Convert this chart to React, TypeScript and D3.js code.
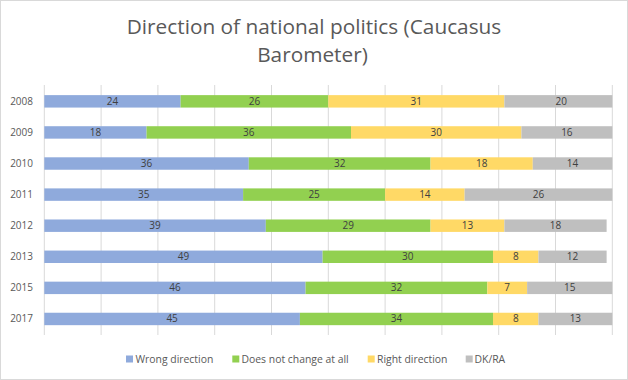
import React from "react";
import * as d3 from "d3";

const years = ["2008", "2009", "2010", "2011", "2012", "2013", "2015", "2017"];
const seriesNames = ["Wrong direction", "Does not change at all", "Right direction", "DK/RA"];
const wrong = [24, 18, 36, 35, 39, 49, 46, 45];
const noChange = [26, 36, 32, 25, 29, 30, 32, 34];
const right = [31, 30, 18, 14, 13, 8, 7, 8];
const dkra = [20, 16, 14, 26, 18, 12, 15, 13];
const colors = ["#8FAADC", "#92D050", "#FFD966", "#BFBFBF"];
const xTicks = d3.range(0, 101, 10);

const W = 628;
const H = 380;
const FONT = "'Open Sans', 'Noto Sans', sans-serif";

export default function App() {
  const series = [wrong, noChange, right, dkra];
  const x = d3.scaleLinear().domain([0, 100]).range([44.3, 612.3]);
  const y = d3
    .scaleBand<string>()
    .domain(years)
    .range([85.8, 334.5])
    .paddingInner(0.6)
    .paddingOuter(0.3);
  const stackData = years.map((yr, i) => {
    const o: any = { year: yr };
    seriesNames.forEach((s, j) => (o[s] = series[j][i]));
    return o;
  });
  const stacked = d3.stack<any>().keys(seriesNames)(stackData);

  const legendItems = [
    { sx: 126, tx: 135.5 },
    { sx: 232.3, tx: 241.5 },
    { sx: 367.7, tx: 377 },
    { sx: 465.7, tx: 474.5 },
  ];

  return (
    <svg
      width={W}
      height={H}
      style={{ position: "absolute", left: 0, top: 0, background: "#fff" }}
      fontFamily={FONT}
    >
      <rect x={0.5} y={0.5} width={W - 1} height={H - 1} fill="#fff" stroke="#D9D9D9" />
      <text x={314} y={34} textAnchor="middle" fontSize={20.8} fill="#595959">
        Direction of national politics (Caucasus
      </text>
      <text x={312.5} y={62} textAnchor="middle" fontSize={20.8} fill="#595959">
        Barometer)
      </text>
      {xTicks.map((t) => (
        <line
          key={t}
          x1={x(t)}
          x2={x(t)}
          y1={85}
          y2={335}
          stroke="#D9D9D9"
          strokeWidth={1}
        />
      ))}
      {stacked.map((layer, j) => (
        <g key={layer.key}>
          {layer.map((d, i) => {
            const x0 = x(Math.min(d[0], 100));
            const x1 = x(Math.min(d[1], 100));
            return (
              <rect
                key={i}
                x={x0}
                y={y(years[i])}
                width={Math.max(0, x1 - x0)}
                height={y.bandwidth()}
                fill={colors[j]}
              />
            );
          })}
        </g>
      ))}
      {stacked.map((layer, j) => (
        <g key={"l" + layer.key}>
          {layer.map((d, i) => (
            <text
              key={i}
              x={x((d[0] + d[1]) / 2)}
              y={(y(years[i]) as number) + y.bandwidth() / 2}
              dy="0.35em"
              textAnchor="middle"
              fontSize={10}
              fill="#404040"
            >
              {series[j][i]}
            </text>
          ))}
        </g>
      ))}
      {years.map((yr) => (
        <text
          key={yr}
          x={33}
          y={(y(yr) as number) + y.bandwidth() / 2}
          dy="0.35em"
          textAnchor="end"
          fontSize={10}
          fill="#595959"
        >
          {yr}
        </text>
      ))}
      {seriesNames.map((s, j) => (
        <g key={"lg" + s}>
          <rect x={legendItems[j].sx} y={355.5} width={7} height={7} fill={colors[j]} />
          <text
            x={legendItems[j].tx}
            y={359}
            dy="0.35em"
            fontSize={10.4}
            fill="#595959"
          >
            {s}
          </text>
        </g>
      ))}
    </svg>
  );
}
